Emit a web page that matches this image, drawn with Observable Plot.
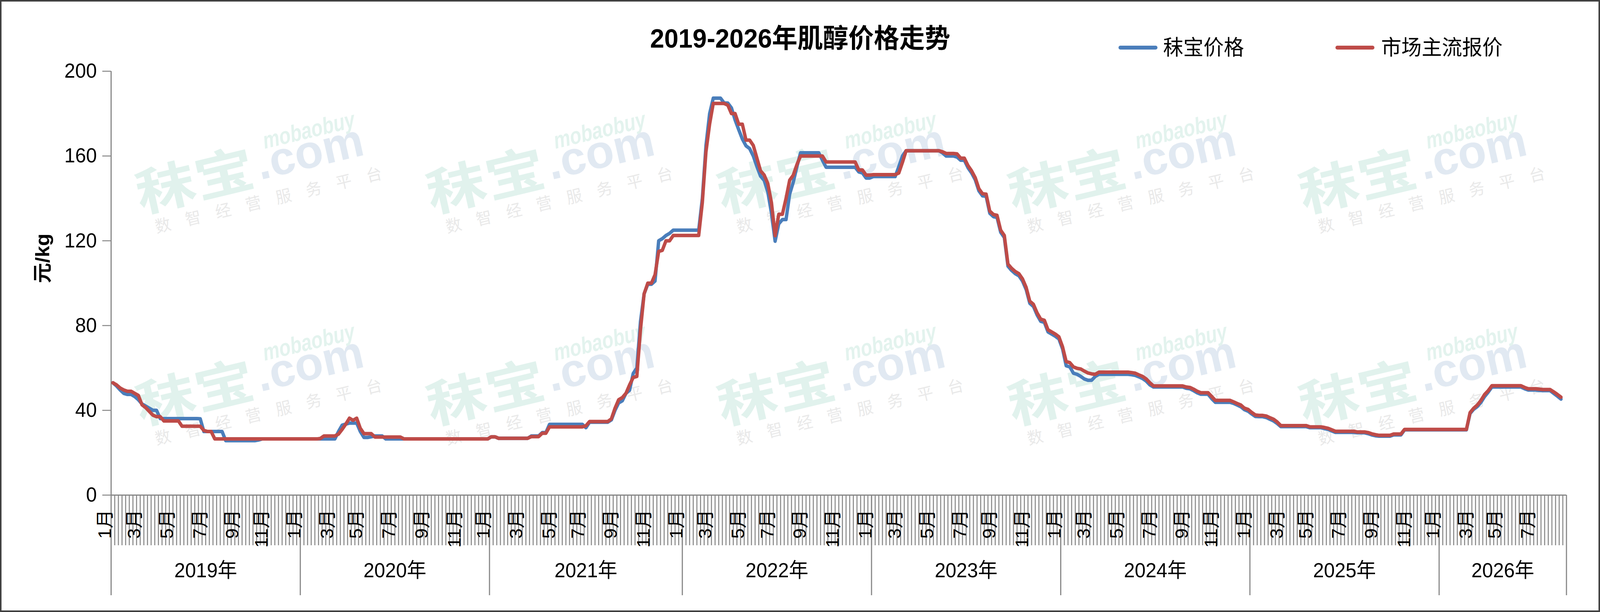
<!DOCTYPE html>
<html><head><meta charset="utf-8">
<script src="https://cdn.jsdelivr.net/npm/d3@7"></script>
<script src="https://cdn.jsdelivr.net/npm/@observablehq/plot@0.6"></script>
<style>html,body{margin:0;padding:0;background:#fff;overflow:hidden;width:100vw;height:100vh}#chart{width:100vw;height:100vh}#chart svg{display:block}</style>
</head><body><div id="chart"></div>
<script>
const title = "2019-2026年肌醇价格走势";
const seriesNames = ["秣宝价格", "市场主流报价"];
const seriesColors = ["#4a7ebb", "#be4b48"];
const yLabel = "元/kg";
const yTicks = [0, 40, 80, 120, 160, 200];
const firstWeek = [2019, 0, 4];
const categoryCount = 400;
const labelledMonths = [1, 3, 5, 7, 9, 11];
const watermarkTexts = ["秣宝", ".com", "mobaobuy", "数智经营服务平台"];

// 秣宝价格 (weekly)
const mobaoPrice = [
  // 2019
  53,51.5,49.6,48,47.5,47.5,46.5,45,43,42,
  41,40,40,36.1,36.1,36.1,36.1,36.1,36.1,36.1,
  36.1,36.1,36.1,36.1,36,30,30,30,30,30,
  30,25.7,25.7,25.7,25.7,25.7,25.7,25.7,25.7,25.7,
  26,26.5,26.5,26.5,26.5,26.5,26.5,26.5,26.5,26.5,
  26.5,26.5,
  // 2020
  26.5,26.5,26.5,26.5,26.5,26.5,26.5,26.5,26.5,26.5,
  30,33,33.5,34,34,34,30,27.2,27.2,27.5,
  27.9,27.9,27.9,26.5,26.5,26.5,26.5,26.5,26.5,26.5,
  26.5,26.5,26.5,26.5,26.5,26.5,26.5,26.5,26.5,26.5,
  26.5,26.5,26.5,26.5,26.5,26.5,26.5,26.5,26.5,26.5,
  26.5,26.5,
  // 2021
  27.5,27.5,26.8,26.8,26.8,26.8,26.8,26.8,26.8,26.8,
  26.8,27.9,27.9,27.9,29.5,29.5,33.4,33.4,33.4,33.4,
  33.4,33.4,33.4,33.4,33.4,33.4,31.8,34.4,34.4,34.4,
  34.4,34.4,34.4,35.5,40,43.5,44.5,48,49.5,57.4,
  60,82,95,99.5,99.5,101,120,121,122.5,123.5,
  125,125,125,
  // 2022
  125,125,125,125,125,140,165,180,187.3,187.3,
  187.3,185,185,182.7,177,172.4,168,164.8,163.5,160,
  155,150.5,148.5,143,133,119.8,128,130,130,142,
  147.7,155,161.5,161.5,161.5,161.5,161.5,161.5,158,154.7,
  154.7,154.7,154.7,154.7,154.7,154.7,154.7,154.7,152.5,152,
  149.6,149.6,
  // 2023
  150.3,150.3,150.3,150.3,150.3,150.3,150.3,155,160,162.5,
  162.5,162.5,162.5,162.5,162.5,162.5,162.5,162.5,162.5,161.5,
  160,160,160,159.5,158,158,154.5,152,148.8,143.6,
  141.2,141,133,131.4,131,124,121.5,108,106,104.5,
  103.5,101,97,90.5,89,85,82,81.5,77,76,
  75,73.7,
  // 2024
  69,61,60.5,57.5,57,56,54.8,54.2,54.2,56,
  57,57,57,57,57,57,57,57,57,56.8,
  56.5,55.8,55,53.8,52,51,51,51,51,51,
  51,51,51,51,50.4,50.2,49.3,48.3,47.6,47.6,
  47.6,45.5,43.8,43.8,43.8,43.8,43.8,43.3,42.5,41.7,
  40.3,39.6,
  // 2025
  38.3,37.1,37,37,36.6,35.8,35,33.8,32.3,32.3,
  32.3,32.3,32.3,32.3,32.3,32.3,31.8,31.8,31.8,31.8,
  31.4,31,30.3,29.6,29.6,29.6,29.6,29.6,29.6,29.4,
  29.4,29.4,29,28.4,28,27.8,27.8,27.8,27.8,28.4,
  28.4,28.4,30.8,30.8,30.8,30.8,30.8,30.8,30.8,30.8,
  30.8,30.8,
  // 2026
  30.8,30.8,30.8,30.8,30.8,30.8,30.8,30.8,38.5,40.5,
  41.8,43.8,46.5,48.6,51,51,51,51,51,51,
  51,51,51,50.2,49.6,49.6,49.6,49.4,49.3,49.3,
  49.3,48,46.7,45.3
];

// 市场主流报价 (weekly)
const marketPrice = [
  // 2019
  53,52,50.5,49.6,49,49,48,47,42.6,41.3,
  39.5,37.7,37,37,35,35,35,35,35,32.5,
  32.5,32.5,32.5,32.5,32.5,30.5,30,30,26.5,26.5,
  26.5,26.5,26.5,26.5,26.5,26.5,26.5,26.5,26.5,26.5,
  26.5,26.5,26.5,26.5,26.5,26.5,26.5,26.5,26.5,26.5,
  26.5,26.5,
  // 2020
  26.5,26.5,26.5,26.5,26.5,26.7,27.9,27.9,27.9,27.9,
  28.8,31,33.5,36.3,35.3,36.3,31.5,29,29,29,
  27.4,27.4,27.4,27.4,27.4,27.4,27.4,27.4,26.5,26.5,
  26.5,26.5,26.5,26.5,26.5,26.5,26.5,26.5,26.5,26.5,
  26.5,26.5,26.5,26.5,26.5,26.5,26.5,26.5,26.5,26.5,
  26.5,26.5,
  // 2021
  27.5,27.5,26.8,26.8,26.8,26.8,26.8,26.8,26.8,26.8,
  26.8,27.6,27.6,27.6,29.2,29.2,32.2,32.2,32.2,32.2,
  32.2,32.2,32.2,32.2,32.2,32.2,32.7,34.7,34.7,34.7,
  34.7,34.7,34.7,36,41,45,46,48,52,55.5,
  56,78,95,100,100,104,115,115.5,120,120,
  122.5,122.5,122.5,
  // 2022
  122.5,122.5,122.5,122.5,122.5,138,162,175,184.8,184.8,
  184.8,184.8,184,180,180,175,175,167.5,167.5,165,
  159,153,151,147,138,122.4,132.5,132.5,140,148.6,
  151,156,160,160,160,160,160,160,160,157.2,
  157.2,157.2,157.2,157.2,157.2,157.2,157.2,157.2,153.4,153.4,
  151,151,
  // 2023
  151.2,151.2,151.2,151.2,151.2,151.2,151.2,152,157,162.5,
  162.5,162.5,162.5,162.5,162.5,162.5,162.5,162.5,162.5,162,
  161.2,161.2,161.2,161,159,159,155.5,153,149.8,144.6,
  142.2,142,134,132.4,132,125,122.5,109,107,105.5,
  104.5,102,98,91.5,90,86,83,82.5,78,77,
  76,74.7,
  // 2024
  70,63,62.5,60.5,59.8,59.5,58.5,57.6,57.2,57,
  58,58,58,58,58,58,58,58,58,57.8,
  57.5,56.7,56,54.8,53,51.5,51.5,51.5,51.5,51.5,
  51.5,51.5,51.5,51.5,51,50.8,50,49,48.3,48.3,
  48.3,46.5,44.7,44.7,44.7,44.7,44.7,44,43.2,42.5,
  41,40.4,
  // 2025
  39,37.8,37.6,37.6,37.3,36.5,35.8,34.5,32.8,32.8,
  32.8,32.8,32.8,32.8,32.8,32.8,32.2,32.2,32.2,32.2,
  31.9,31.5,30.8,30.1,30.1,30.1,30.1,30.1,30.1,29.8,
  29.8,29.8,29.5,28.9,28.5,28.2,28.2,28.2,28.2,28.8,
  28.8,28.8,31,31,31,31,31,31,31,31,
  31,31,
  // 2026
  31,31,31,31,31,31,31,31,38.9,41,
  42.5,44.7,47.5,49.3,51.6,51.6,51.6,51.6,51.6,51.6,
  51.6,51.6,51.6,50.8,50.2,50.2,50.2,50,49.8,49.8,
  49.8,48.7,47.5,46.2
];

const FONT = '"Liberation Sans", Arial, "Noto Sans CJK SC", sans-serif';

// weekly categories
const categories = d3.range(categoryCount).map(i =>
  new Date(Date.UTC(firstWeek[0], firstWeek[1], firstWeek[2] + 7 * i)));

const yearSpans = [];
categories.forEach((d, i) => {
  const y = d.getUTCFullYear();
  if (!yearSpans.length || yearSpans[yearSpans.length - 1].year !== y) yearSpans.push({year: y, start: i});
});
yearSpans.forEach((s, k) => {
  s.end = k + 1 < yearSpans.length ? yearSpans[k + 1].start : categoryCount;
  s.mid = (s.start + s.end) / 2;
  s.label = s.year + "年";
});
const yearBounds = yearSpans.map(s => s.start).concat([categoryCount]);

const monthTicks = [];
categories.forEach((d, i) => {
  const m = d.getUTCMonth() + 1;
  const first = i === 0 || categories[i - 1].getUTCMonth() + 1 !== m;
  if (first && labelledMonths.includes(m)) monthTicks.push({i, label: m + "月"});
});

const mobaoRows = mobaoPrice.map((v, i) => ({x: i + 0.5, v}));
const marketRows = marketPrice.map((v, i) => ({x: i + 0.5, v}));

const chart = Plot.plot({
  width: 4270,
  height: 1568,
  marginLeft: 296,
  marginRight: 90,
  marginTop: 182,
  marginBottom: 300,
  style: {fontFamily: FONT, fontSize: "52px", background: "white", color: "black"},
  x: {domain: [0, categoryCount], axis: null},
  y: {domain: [0, 200], axis: null},
  marks: [
    Plot.ruleX(d3.range(1, categoryCount), {stroke: "#8a8a8a", strokeWidth: 2.8, insetTop: 1088, insetBottom: -129}),
    Plot.ruleX(yearBounds, {stroke: "#868686", strokeWidth: 3, insetTop: 1086, insetBottom: -257}),
    Plot.ruleX([0], {stroke: "#868686", strokeWidth: 3}),
    Plot.ruleY([0], {stroke: "#868686", strokeWidth: 3}),
    Plot.axisY({ticks: yTicks, tickSize: 23, tickPadding: 15, stroke: "#868686", strokeWidth: 2.5, fill: "black", fontSize: 52, label: null}),
    Plot.line(mobaoRows, {x: "x", y: "v", stroke: seriesColors[0], strokeWidth: 9, strokeLinejoin: "round", strokeLinecap: "round"}),
    Plot.line(marketRows, {x: "x", y: "v", stroke: seriesColors[1], strokeWidth: 9, strokeLinejoin: "round", strokeLinecap: "round"}),
    Plot.text(monthTicks, {x: "i", text: "label", frameAnchor: "bottom", dy: 37, rotate: -90, textAnchor: "end", lineAnchor: "bottom", fontSize: 48, fill: "black"}),
    Plot.text(yearSpans, {x: "mid", text: "label", frameAnchor: "bottom", dy: 210, fontSize: 52, fill: "black"}),
    Plot.text([yLabel], {text: d => d, frameAnchor: "left", dx: -182, rotate: -90, fontWeight: "bold", fontSize: 52, fill: "black"}),
    Plot.text([title], {text: d => d, frameAnchor: "top", dx: -103, dy: -109, fontWeight: "bold", fontSize: 68, fill: "black"})
  ]
});

// make the 4270x1568 drawing fill the browser viewport exactly
chart.setAttribute("preserveAspectRatio", "none");
chart.style.width = "100vw";
chart.style.height = "100vh";
chart.style.maxWidth = "none";
document.getElementById("chart").appendChild(chart);

const svg = d3.select(chart);

// watermark (behind everything)
const wm = svg.insert("g", ":first-child").attr("font-family", FONT).attr("text-anchor", "start").attr("pointer-events", "none");
for (let r = 0; r < 2; r++) {
  for (let c = 0; c < 5; c++) {
    const g = wm.append("g").attr("transform", `translate(${375 + 776 * c},${545 + 543 * r}) rotate(-13)`);
    g.append("text").text(watermarkTexts[0]).attr("x", 0).attr("y", 0)
      .attr("font-size", 130).attr("font-weight", "bold").attr("fill", "#e1f2ed")
      .attr("textLength", 320).attr("lengthAdjust", "spacingAndGlyphs");
    g.append("text").text(watermarkTexts[1]).attr("x", 330).attr("y", -10)
      .attr("font-size", 120).attr("font-weight", "bold").attr("fill", "#e1e9f2")
      .attr("textLength", 290).attr("lengthAdjust", "spacingAndGlyphs");
    g.append("text").text(watermarkTexts[2]).attr("x", 360).attr("y", -85)
      .attr("font-size", 60).attr("font-weight", "bold").attr("font-style", "italic").attr("fill", "#e3f3ee")
      .attr("textLength", 250).attr("lengthAdjust", "spacingAndGlyphs");
    g.append("text").text(watermarkTexts[3]).attr("x", 30).attr("y", 60)
      .attr("font-size", 42).attr("fill", "#e9e9e9")
      .attr("textLength", 620).attr("lengthAdjust", "spacing");
  }
}

// legend
const legendItems = [
  {name: seriesNames[0], color: seriesColors[0], x0: 2990, x1: 3084, tx: 3104},
  {name: seriesNames[1], color: seriesColors[1], x0: 3569, x1: 3663, tx: 3686}
];
const lg = svg.append("g").attr("font-family", FONT).attr("text-anchor", "start");
legendItems.forEach(it => {
  lg.append("line").attr("x1", it.x0).attr("x2", it.x1).attr("y1", 122).attr("y2", 122)
    .attr("stroke", it.color).attr("stroke-width", 10).attr("stroke-linecap", "round");
  lg.append("text").text(it.name).attr("x", it.tx).attr("y", 122).attr("dy", "0.36em")
    .attr("font-size", 54).attr("fill", "black");
});

// outer border
svg.append("rect").attr("x", 2).attr("y", 2).attr("width", 4266).attr("height", 1564)
  .attr("fill", "none").attr("stroke", "#404040").attr("stroke-width", 4);
</script>
</body></html>
